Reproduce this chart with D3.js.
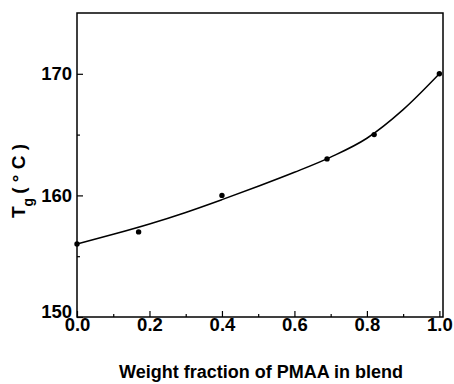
<!DOCTYPE html>
<html>
<head>
<meta charset="utf-8">
<script src="https://cdn.jsdelivr.net/npm/d3@7"></script>
<style>
  body { margin: 0; background: #fff; }
  svg text { font-family: "Liberation Sans", Arial, sans-serif; font-weight: bold; fill: #000; }
</style>
</head>
<body>
<div class="chart"></div>
<script>
// measured points
var fraction = [0.0, 0.17, 0.40, 0.69, 0.82, 1.0];
var tg = [156, 157, 160, 163, 165, 170];

// fitted curve
var fitX = [0, 0.1, 0.2, 0.3, 0.4, 0.5, 0.6, 0.7, 0.8, 0.9, 1.0];
var fitY = [156.0, 156.8, 157.65, 158.6, 159.65, 160.75, 161.9, 163.15, 164.7, 167.05, 170.0];

var xTicks = [0, 0.2, 0.4, 0.6, 0.8, 1.0];
var xMinor = [0.1, 0.3, 0.5, 0.7, 0.9];
var yTicks = [150, 160, 170];
var yMinor = [155, 165];

var margin = { top: 13, right: 11, bottom: 67, left: 77 };
var fullWidth = 454;
var fullHeight = 384;
var width = fullWidth - margin.left - margin.right;
var height = fullHeight - margin.top - margin.bottom;

var svg = d3
  .select(".chart")
  .append("svg")
  .attr("width", fullWidth)
  .attr("height", fullHeight)
  .append("g")
  .attr("transform", `translate(${margin.left}, ${margin.top})`);

var xScale = d3.scaleLinear().domain([0, 1.01]).range([0, width]);
var yScale = d3.scaleLinear().domain([150, 175]).range([height, 0]);

// minor ticks
svg.append("g")
  .attr("transform", `translate(0, ${height})`)
  .call(d3.axisBottom(xScale).tickValues(xMinor).tickSizeInner(-3).tickSizeOuter(0).tickFormat(""))
  .call(g => g.select(".domain").remove());
svg.append("g")
  .call(d3.axisLeft(yScale).tickValues(yMinor).tickSizeInner(-3).tickSizeOuter(0).tickFormat(""))
  .call(g => g.select(".domain").remove());

// major ticks
var xAxis = svg.append("g")
  .attr("transform", `translate(0, ${height})`)
  .call(d3.axisBottom(xScale).tickValues(xTicks).tickSizeInner(-6).tickSizeOuter(0)
    .tickPadding(1).tickFormat(d3.format(".1f")));
xAxis.select(".domain").remove();
xAxis.selectAll("text").style("font-size", "18.5px");

var yAxis = svg.append("g")
  .call(d3.axisLeft(yScale).tickValues(yTicks).tickSizeInner(-6).tickSizeOuter(0)
    .tickPadding(5).tickFormat(d3.format("d")));
yAxis.select(".domain").remove();
yAxis.selectAll("text").style("font-size", "18.5px");
yAxis.selectAll(".tick").filter(d => d === 150).select("text").attr("dy", "0.05em");
svg.selectAll(".tick line").attr("stroke-width", 1.2);

// frame
svg.append("rect")
  .attr("width", width)
  .attr("height", height)
  .attr("fill", "none")
  .attr("stroke", "#000")
  .attr("stroke-width", 1.5);

// fit line
var line = d3.line()
  .x(d => xScale(d[0]))
  .y(d => yScale(d[1]))
  .curve(d3.curveMonotoneX);

svg.append("path")
  .datum(fitX.map((x, i) => [x, fitY[i]]))
  .attr("fill", "none")
  .attr("stroke", "#000")
  .attr("stroke-width", 1.5)
  .attr("d", line);

svg.selectAll("circle")
  .data(fraction.map((x, i) => [x, tg[i]]))
  .enter()
  .append("circle")
  .attr("cx", d => xScale(d[0]))
  .attr("cy", d => yScale(d[1]))
  .attr("r", 2.7)
  .attr("fill", "#000");

// axis titles
svg.append("text")
  .attr("x", width / 2 + 1)
  .attr("y", height + 61)
  .attr("text-anchor", "middle")
  .style("font-size", "18px")
  .text("Weight fraction of PMAA in blend");

var yTitle = svg.append("text")
  .attr("transform", `translate(${-52}, ${height / 2 + 16}) rotate(-90)`)
  .attr("text-anchor", "middle")
  .style("font-size", "19px");
yTitle.append("tspan").text("T");
yTitle.append("tspan").attr("dy", 8).style("font-size", "14px").text("g");
yTitle.append("tspan").attr("dy", -8).attr("dx", 4).text("( \u00b0 C )");
</script>
</body>
</html>
